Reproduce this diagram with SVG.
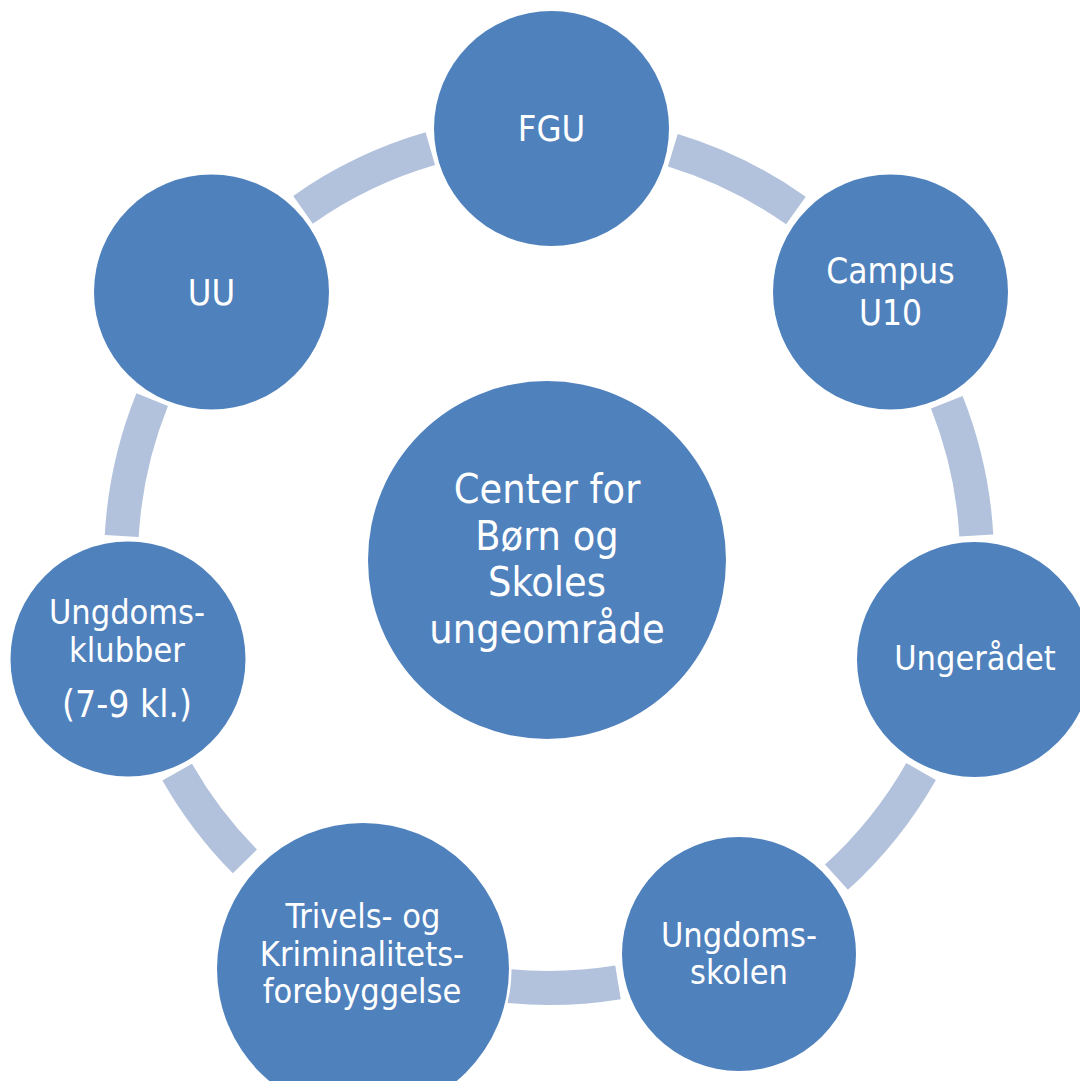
<svg xmlns="http://www.w3.org/2000/svg" width="1080" height="1081" viewBox="0 0 1080 1081">
<style>
.arc{fill:none;stroke:#B2C1DC;stroke-width:34;stroke-linecap:butt}
.node{fill:#4F81BD;stroke:#FFFFFF;stroke-width:5;paint-order:stroke}
.lbl{fill:#FFFFFF;font-family:'DejaVu Sans Condensed','DejaVu Sans',sans-serif;font-stretch:condensed;font-size:34px;text-anchor:middle}
.big{font-size:41px}
</style>
<rect width="1080" height="1081" fill="#FFFFFF"/>
<g id="connectors">
<path class="arc" d="M 672.8 150.2 A 428 428 0 0 1 795.9 210.5"/>
<path class="arc" d="M 946.8 402.2 A 428 428 0 0 1 976.3 535.4"/>
<path class="arc" d="M 921.1 771.5 A 428 428 0 0 1 836.5 877.2"/>
<path class="arc" d="M 618.0 982.4 A 428 428 0 0 1 490.0 983.9"/>
<path class="arc" d="M 244.9 861.4 A 428 428 0 0 1 177.2 772.1"/>
<path class="arc" d="M 121.7 536.0 A 428 428 0 0 1 152.2 399.7"/>
<path class="arc" d="M 303.0 209.8 A 428 428 0 0 1 430.3 148.7"/>
</g>
<g id="center">
<circle class="node" cx="547" cy="560" r="179"/>
<text class="lbl big" x="547" y="503">Center for</text>
<text class="lbl big" x="547" y="550">Børn og</text>
<text class="lbl big" x="547" y="596">Skoles</text>
<text class="lbl big" x="547" y="643">ungeområde</text>
</g>
<g id="fgu">
<circle class="node" cx="551.5" cy="128.5" r="117.5"/>
<text class="lbl" x="551.5" y="141" style="font-size:36px">FGU</text>
</g>
<g id="campus">
<circle class="node" cx="890.5" cy="292" r="117.5"/>
<text class="lbl" x="890.5" y="283" style="font-size:35px">Campus</text>
<text class="lbl" x="890.5" y="325" style="font-size:35px">U10</text>
</g>
<g id="ungeraadet">
<circle class="node" cx="974.5" cy="659.5" r="117.5"/>
<text class="lbl" x="975" y="670">Ungerådet</text>
</g>
<g id="ungdomsskolen">
<circle class="node" cx="739" cy="954" r="117"/>
<text class="lbl" x="739" y="947">Ungdoms-</text>
<text class="lbl" x="739" y="984">skolen</text>
</g>
<g id="trivsel">
<circle class="node" cx="363" cy="969" r="146"/>
<text class="lbl" x="363" y="928">Trivels- og</text>
<text class="lbl" x="362" y="966">Kriminalitets-</text>
<text class="lbl" x="362" y="1003">forebyggelse</text>
</g>
<g id="ungdomsklubber">
<circle class="node" cx="128" cy="659" r="117.5"/>
<text class="lbl" x="127" y="624">Ungdoms-</text>
<text class="lbl" x="127" y="662">klubber</text>
<text class="lbl" x="127" y="717" style="font-size:37px">(7-9 kl.)</text>
</g>
<g id="uu">
<circle class="node" cx="211.5" cy="292" r="117.5"/>
<text class="lbl" x="211.5" y="305" style="font-size:36px">UU</text>
</g>
</svg>
